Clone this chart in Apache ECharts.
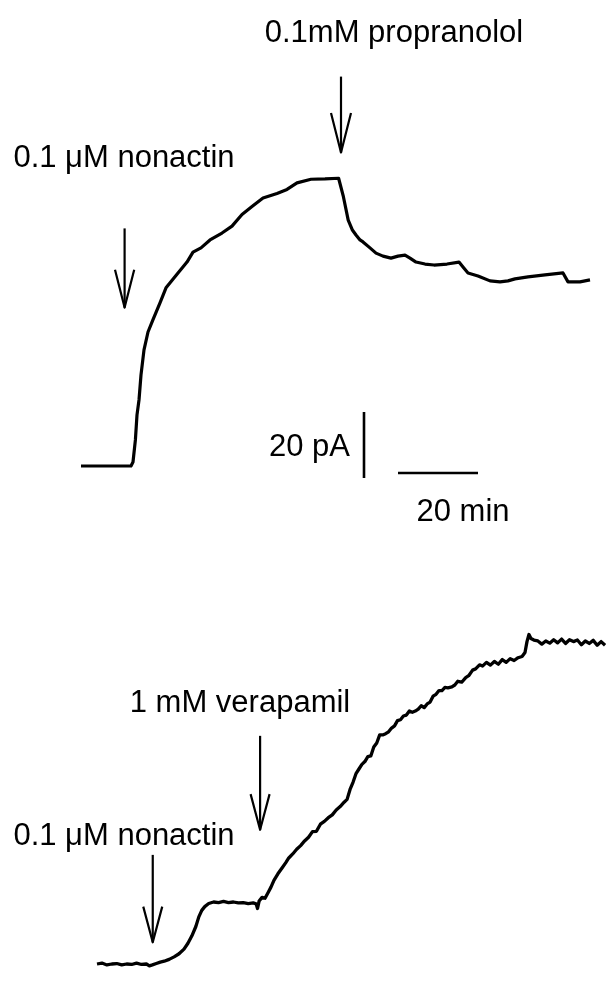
<!DOCTYPE html>
<html><head><meta charset="utf-8">
<script src="https://cdn.jsdelivr.net/npm/echarts@6/dist/echarts.min.js"></script>
<style>html,body{margin:0;padding:0;background:#fff}#c{width:611px;height:995px}</style>
</head><body><div id="c"></div>
<script>
// ---- Data (time in min, current in pA) ----
const topTime = [0,12.5,13,13.6,14,14.5,15,15.75,16.75,17.95,
  19.75,21.25,24.25,26.5,28,30,32.25,35.25,37.75,40.25,
  42.75,45.5,49,51.5,54,57.5,61,64.4,65.6,66.8,
  67.8,68.75,69.75,70.5,72.25,73.75,75.5,77.5,79.25,81,
  82.25,83.75,86,88.25,91.5,94.5,95.5,96.75,99.25,102.25,
  104.75,106.75,108.5,111.75,116,120.5,121,121.75,124.75,126,
  127.25];
const topCurrent = [0,0,1.2,7.9,15.5,20,27.6,35.2,40.6,44.2,
  49.4,54,58.5,61.8,64.8,66.1,68.5,70.6,72.7,76.2,
  78.6,81.2,82.6,83.8,85.8,86.9,87,87.2,81.6,74.5,
  71.6,70,68.5,67.9,66.1,64.5,63.6,63,63.6,63.9,
  63,61.8,61.2,60.9,61.2,61.8,60.3,58.5,57.6,56.1,
  55.8,56.1,56.7,57.3,57.9,58.5,59.1,55.8,55.8,56.1,
  56.4];

const botTime = [0,1.25,2.5,3.75,5,6.25,7.5,8.75,10,11.25,
  12.5,13.25,14,15,16,17,18.25,19.5,20.75,22,
  23,24,25,25.75,26.5,27.25,28.25,29.5,30.75,32,
  33.25,34.5,35.75,37,38.25,39.5,40.25,40.6,41,41.75,
  42.5,43.25,44,44.75,45.75,46.75,47.75,48.5,49.5,50.5,
  51.5,52.5,53.5,54.5,55.5,56.5,57.5,58.5,59.5,60.5,
  61.5,62.5,63.25,64,64.75,65.5,66.25,67,67.75,68.5,
  69.25,70,70.75,71.5,72.25,73,73.75,74.5,75.25,76,
  76.75,77.5,78.25,79,79.75,80.5,81.25,82,82.75,83.5,
  84.25,85,85.75,86.5,87.25,88,88.75,89.75,90.5,91.25,
  92.25,93.25,94,95,95.75,96.75,97.5,98.5,99.5,100.5,
  101.5,102.5,103.5,104.5,105.5,106.5,107.5,108.25,108.75,109.25,
  109.75,110.5,111.5,112.5,113.5,114.5,115.5,116.5,117.5,118.5,
  119.5,120.5,121.5,122.5,123.5,124.5,125.5,126.5,127.5,128.5];
const botCurrent = [0,0.3,-0.3,0,0.15,-0.3,0,-0.15,0.3,-0.15,
  0,-0.6,-0.3,0.15,0.6,0.9,1.5,2.3,3.3,4.8,
  6.7,9.1,12.1,15.2,17.3,18.5,19.5,20,19.8,20.2,
  19.8,20,19.7,19.8,19.5,19.7,19.4,17.9,20.3,21.5,
  21.2,23,24.8,27,29.1,30.9,32.7,34.2,35.5,37,
  38.2,39.7,40.9,42.7,42.8,45.1,46,47.2,48.1,49.7,
  50.8,52.2,53.1,56.3,58.6,61.4,62.9,64.4,65.3,66.9,
  67.1,70,71.3,73.9,73.9,74.3,74.9,76.1,76.8,78.5,
  78.8,80,80.3,81.6,81.2,81.6,82.2,83.3,82.7,83.9,
  84.5,86.4,87,88.2,88.2,89.2,89.1,89.4,90,91.2,
  90.9,92.4,93,94.8,95.2,96.5,96.1,97.3,96.4,97.6,
  96.7,98.2,97.3,98.5,97.9,98.8,99.2,100.5,104,106.3,
  105,104.5,104.2,103.2,104.2,103.5,104.6,103.6,104.8,103.4,
  104.6,104,104.5,103,104.2,103.4,104.4,102.8,104,102.8];

const topEventLabels = ['0.1 μM nonactin', '0.1mM propranolol'];
const topEventTimes = [10.9, 65];
const botEventLabels = ['0.1 μM nonactin', '1 mM verapamil'];
const botEventTimes = [14.1, 41.25];
const scaleBarCurrent = 20;   // pA
const scaleBarTime = 20;      // min
const scaleLabels = ['20 pA', '20 min'];

// ---- Layout / styling ----
const chart = echarts.init(document.getElementById('c'), null, {renderer: 'canvas'});
const zip = (a, b) => a.map((v, i) => [v, b[i]]);
const FONT = '31px "Liberation Sans", Arial, sans-serif';

// arrow geometry (in each panel's data units): shaft top, tip, head length, half width
const topArrowGeom = [{top: 72, tip: 48, head: 11.5, hw: 2.4}, {top: 118, tip: 95, head: 12, hw: 2.5}];
const botArrowGeom = [{top: 35.2, tip: 7, head: 11.5, hw: 2.4}, {top: 73.6, tip: 43.3, head: 11.5, hw: 2.4}];
function arrowLines(times, geom) {
  const out = [];
  times.forEach((t, i) => {
    const g = geom[i];
    out.push({coords: [[t, g.top], [t, g.tip]]});
    out.push({coords: [[t - g.hw, g.tip + g.head], [t, g.tip], [t + g.hw, g.tip + g.head]]});
  });
  return out;
}
const vBarT = 70.75, vBarI0 = -3.6, hBarT0 = 79.25, hBarI = -2.1;

const blackLine = (w) => ({color: '#000', width: w, opacity: 1, cap: 'butt', join: 'round'});

chart.setOption({
  animation: false,
  backgroundColor: '#fff',
  grid: [
    {left: 81, top: 37, width: 520, height: 462},
    {left: 97, top: 592, width: 520, height: 429}
  ],
  xAxis: [
    {type: 'value', gridIndex: 0, min: 0, max: 130, show: false},
    {type: 'value', gridIndex: 1, min: 0, max: 130, show: false}
  ],
  yAxis: [
    {type: 'value', gridIndex: 0, min: -10, max: 130, show: false},
    {type: 'value', gridIndex: 1, min: -10, max: 120, show: false}
  ],
  series: [
    {type: 'line', xAxisIndex: 0, yAxisIndex: 0, data: zip(topTime, topCurrent),
     showSymbol: false, symbol: 'none', smooth: false, sampling: null, clip: false,
     lineStyle: blackLine(3.2)},
    {type: 'line', xAxisIndex: 1, yAxisIndex: 1, data: zip(botTime, botCurrent),
     showSymbol: false, symbol: 'none', smooth: false, clip: false,
     lineStyle: blackLine(3.3)},
    {type: 'lines', coordinateSystem: 'cartesian2d', xAxisIndex: 0, yAxisIndex: 0, polyline: true,
     data: arrowLines(topEventTimes, topArrowGeom), lineStyle: blackLine(2.2), silent: true},
    {type: 'lines', coordinateSystem: 'cartesian2d', xAxisIndex: 1, yAxisIndex: 1, polyline: true,
     data: arrowLines(botEventTimes, botArrowGeom), lineStyle: blackLine(2.2), silent: true},
    {type: 'lines', coordinateSystem: 'cartesian2d', xAxisIndex: 0, yAxisIndex: 0, polyline: true,
     data: [
       {coords: [[vBarT, vBarI0], [vBarT, vBarI0 + scaleBarCurrent]]},
       {coords: [[hBarT0, hBarI], [hBarT0 + scaleBarTime, hBarI]]}
     ], lineStyle: blackLine(2.6), silent: true}
  ],
  graphic: [
    {type: 'text', style: {text: topEventLabels[1], x: 394, y: 33, font: FONT, fill: '#000', textAlign: 'center', textVerticalAlign: 'middle'}},
    {type: 'text', style: {text: topEventLabels[0], x: 124, y: 158, font: FONT, fill: '#000', textAlign: 'center', textVerticalAlign: 'middle'}},
    {type: 'text', style: {text: scaleLabels[0], x: 350, y: 447, font: FONT, fill: '#000', textAlign: 'right', textVerticalAlign: 'middle'}},
    {type: 'text', style: {text: scaleLabels[1], x: 463, y: 512, font: FONT, fill: '#000', textAlign: 'center', textVerticalAlign: 'middle'}},
    {type: 'text', style: {text: botEventLabels[1], x: 240, y: 703, font: FONT, fill: '#000', textAlign: 'center', textVerticalAlign: 'middle'}},
    {type: 'text', style: {text: botEventLabels[0], x: 124, y: 836, font: FONT, fill: '#000', textAlign: 'center', textVerticalAlign: 'middle'}}
  ]
});
</script></body></html>
